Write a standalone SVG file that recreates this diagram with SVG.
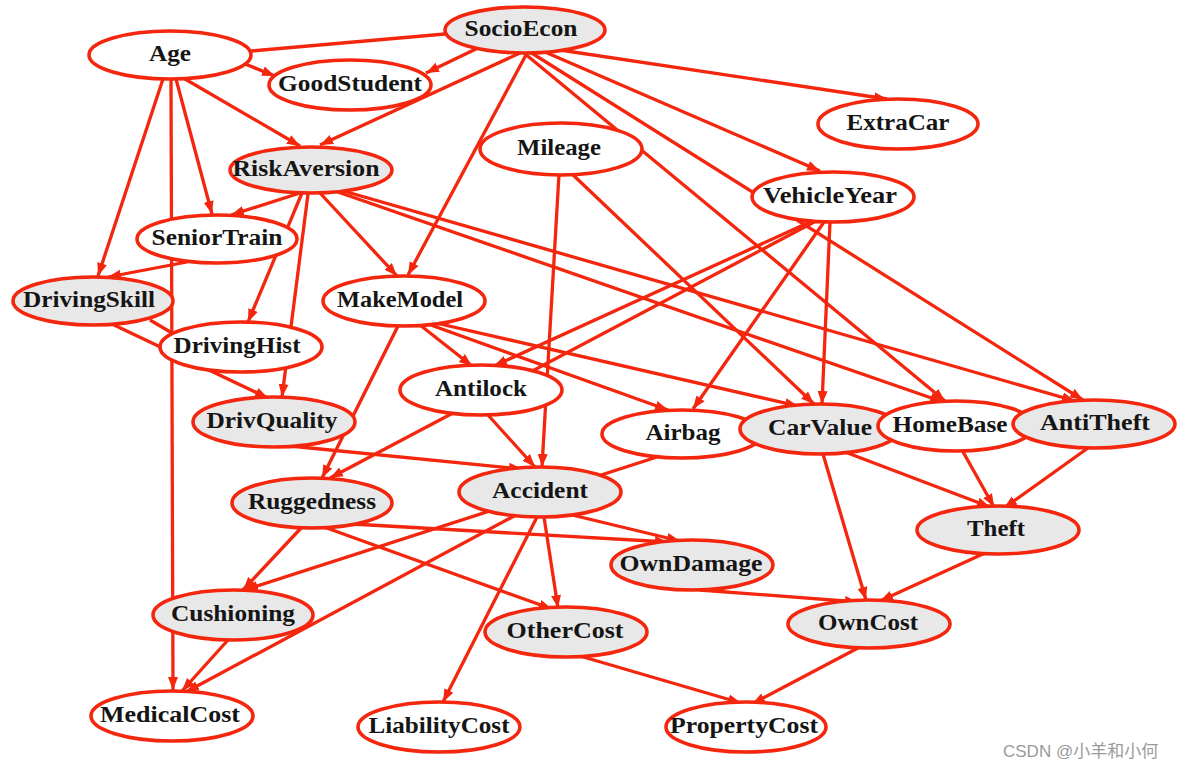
<svg xmlns="http://www.w3.org/2000/svg" width="1190" height="769" viewBox="0 0 1190 769">
<style>
.e{stroke:#f4260e;stroke-width:3.3;fill:none;marker-end:url(#ah)}
.n{stroke:#f4260e;stroke-width:3.3;fill:none}
.w{fill:#ffffff;stroke:#f4260e;stroke-width:3.6}
.g{fill:#e8e8e8;stroke:#f4260e;stroke-width:3.6}
.t{font-family:"Liberation Serif","Times New Roman",serif;font-size:23px;font-weight:bold;fill:#151515;text-anchor:middle}
.wm{font-family:"Liberation Sans","Noto Sans CJK SC",sans-serif;font-size:17px;fill:#9a9a9a}
</style>
<defs>
<marker id="ah" markerUnits="userSpaceOnUse" markerWidth="14" markerHeight="12" refX="13" refY="6" orient="auto">
<path d="M0,1 L13,6 L0,11 z" fill="#f4260e"/>
</marker>
</defs>
<rect x="0" y="0" width="1190" height="769" fill="#ffffff"/>
<g id="edges">
<line class="n" x1="251" y1="51" x2="445" y2="34"/>
<line class="e" x1="245" y1="64" x2="275" y2="76"/>
<line class="e" x1="185" y1="79" x2="300" y2="146"/>
<line class="e" x1="163" y1="79" x2="98" y2="276"/>
<line class="e" x1="176" y1="79" x2="212" y2="214"/>
<line class="e" x1="171" y1="79" x2="173" y2="690"/>
<line class="e" x1="478" y1="48" x2="426" y2="73"/>
<line class="e" x1="520" y1="53" x2="320" y2="145"/>
<line class="e" x1="527" y1="53" x2="408" y2="275"/>
<line class="e" x1="560" y1="50" x2="887" y2="99"/>
<line class="e" x1="545" y1="52" x2="820" y2="171"/>
<line class="e" x1="524" y1="53" x2="945" y2="401"/>
<line class="e" x1="530" y1="52" x2="1083" y2="400"/>
<line class="e" x1="559" y1="174" x2="542" y2="467"/>
<line class="e" x1="571" y1="173" x2="814" y2="404"/>
<line class="e" x1="300" y1="193" x2="231" y2="215"/>
<line class="e" x1="302" y1="193" x2="248" y2="322"/>
<line class="e" x1="308" y1="194" x2="282" y2="397"/>
<line class="e" x1="320" y1="193" x2="397" y2="276"/>
<line class="e" x1="335" y1="191" x2="943" y2="402"/>
<line class="e" x1="340" y1="190" x2="1075" y2="401"/>
<line class="e" x1="812" y1="221" x2="494" y2="366"/>
<line class="e" x1="816" y1="221" x2="330" y2="478"/>
<line class="e" x1="824" y1="222" x2="693" y2="409"/>
<line class="e" x1="830" y1="222" x2="822" y2="404"/>
<line class="e" x1="420" y1="325" x2="472" y2="366"/>
<line class="e" x1="398" y1="326" x2="322" y2="478"/>
<line class="e" x1="428" y1="324" x2="668" y2="410"/>
<line class="e" x1="436" y1="323" x2="798" y2="406"/>
<line class="e" x1="488" y1="415" x2="535" y2="467"/>
<line class="n" x1="150" y1="320" x2="172" y2="333"/>
<line class="e" x1="112" y1="324" x2="268" y2="398"/>
<line class="e" x1="187" y1="262" x2="108" y2="277"/>
<line class="e" x1="290" y1="446" x2="522" y2="469"/>
<line class="e" x1="302" y1="527" x2="243" y2="590"/>
<line class="e" x1="352" y1="524" x2="668" y2="542"/>
<line class="e" x1="324" y1="527" x2="552" y2="609"/>
<line class="e" x1="657" y1="457" x2="245" y2="590"/>
<line class="e" x1="568" y1="514" x2="680" y2="541"/>
<line class="e" x1="544" y1="517" x2="558" y2="608"/>
<line class="e" x1="537" y1="517" x2="443" y2="702"/>
<line class="e" x1="516" y1="515" x2="186" y2="692"/>
<line class="e" x1="228" y1="640" x2="182" y2="691"/>
<line class="e" x1="845" y1="452" x2="990" y2="507"/>
<line class="e" x1="823" y1="454" x2="866" y2="600"/>
<line class="e" x1="962" y1="450" x2="994" y2="507"/>
<line class="e" x1="1088" y1="448" x2="1004" y2="508"/>
<line class="e" x1="985" y1="553" x2="880" y2="601"/>
<line class="e" x1="700" y1="590" x2="858" y2="602"/>
<line class="e" x1="580" y1="656" x2="741" y2="703"/>
<line class="e" x1="858" y1="648" x2="752" y2="704"/>
</g>
<g id="node-Age"><ellipse class="w" cx="170" cy="55" rx="81" ry="24"/><text class="t" x="170" y="61" textLength="42" lengthAdjust="spacingAndGlyphs">Age</text></g>
<g id="node-SocioEcon"><ellipse class="g" cx="525" cy="30" rx="80" ry="23"/><text class="t" x="521" y="36" textLength="113" lengthAdjust="spacingAndGlyphs">SocioEcon</text></g>
<g id="node-GoodStudent"><ellipse class="w" cx="350" cy="85" rx="81" ry="25"/><text class="t" x="350" y="91" textLength="144" lengthAdjust="spacingAndGlyphs">GoodStudent</text></g>
<g id="node-ExtraCar"><ellipse class="w" cx="898" cy="124" rx="80" ry="25"/><text class="t" x="898" y="130" textLength="103" lengthAdjust="spacingAndGlyphs">ExtraCar</text></g>
<g id="node-Mileage"><ellipse class="w" cx="561" cy="149" rx="81" ry="26"/><text class="t" x="559" y="155" textLength="84" lengthAdjust="spacingAndGlyphs">Mileage</text></g>
<g id="node-RiskAversion"><ellipse class="g" cx="311" cy="170" rx="81" ry="23"/><text class="t" x="306" y="176" textLength="147" lengthAdjust="spacingAndGlyphs">RiskAversion</text></g>
<g id="node-VehicleYear"><ellipse class="w" cx="833" cy="197" rx="81" ry="25"/><text class="t" x="830" y="203" textLength="134" lengthAdjust="spacingAndGlyphs">VehicleYear</text></g>
<g id="node-SeniorTrain"><ellipse class="w" cx="217" cy="239" rx="80" ry="24"/><text class="t" x="217" y="245" textLength="131" lengthAdjust="spacingAndGlyphs">SeniorTrain</text></g>
<g id="node-DrivingSkill"><ellipse class="g" cx="93" cy="301" rx="80" ry="24"/><text class="t" x="89" y="307" textLength="132" lengthAdjust="spacingAndGlyphs">DrivingSkill</text></g>
<g id="node-MakeModel"><ellipse class="w" cx="404" cy="301" rx="81" ry="25"/><text class="t" x="400" y="307" textLength="126" lengthAdjust="spacingAndGlyphs">MakeModel</text></g>
<g id="node-DrivingHist"><ellipse class="w" cx="241" cy="347" rx="81" ry="25"/><text class="t" x="237" y="353" textLength="127" lengthAdjust="spacingAndGlyphs">DrivingHist</text></g>
<g id="node-Antilock"><ellipse class="w" cx="481" cy="390" rx="81" ry="25"/><text class="t" x="481" y="396" textLength="92" lengthAdjust="spacingAndGlyphs">Antilock</text></g>
<g id="node-DrivQuality"><ellipse class="g" cx="274" cy="422" rx="81" ry="25"/><text class="t" x="272" y="428" textLength="131" lengthAdjust="spacingAndGlyphs">DrivQuality</text></g>
<g id="node-Airbag"><ellipse class="w" cx="682" cy="434" rx="80" ry="24"/><text class="t" x="683" y="440" textLength="75" lengthAdjust="spacingAndGlyphs">Airbag</text></g>
<g id="node-CarValue"><ellipse class="g" cx="820" cy="429" rx="80" ry="25"/><text class="t" x="820" y="435" textLength="104" lengthAdjust="spacingAndGlyphs">CarValue</text></g>
<g id="node-HomeBase"><ellipse class="w" cx="956" cy="426" rx="78" ry="25"/><text class="t" x="950" y="432" textLength="115" lengthAdjust="spacingAndGlyphs">HomeBase</text></g>
<g id="node-AntiTheft"><ellipse class="g" cx="1094" cy="424" rx="81" ry="24"/><text class="t" x="1095" y="430" textLength="110" lengthAdjust="spacingAndGlyphs">AntiTheft</text></g>
<g id="node-Ruggedness"><ellipse class="g" cx="312" cy="503" rx="80" ry="25"/><text class="t" x="312" y="509" textLength="128" lengthAdjust="spacingAndGlyphs">Ruggedness</text></g>
<g id="node-Accident"><ellipse class="g" cx="540" cy="492" rx="81" ry="25"/><text class="t" x="540" y="498" textLength="96" lengthAdjust="spacingAndGlyphs">Accident</text></g>
<g id="node-Theft"><ellipse class="g" cx="998" cy="530" rx="81" ry="24"/><text class="t" x="996" y="536" textLength="58" lengthAdjust="spacingAndGlyphs">Theft</text></g>
<g id="node-OwnDamage"><ellipse class="g" cx="692" cy="565" rx="81" ry="25"/><text class="t" x="691" y="571" textLength="143" lengthAdjust="spacingAndGlyphs">OwnDamage</text></g>
<g id="node-Cushioning"><ellipse class="g" cx="233" cy="615" rx="80" ry="25"/><text class="t" x="233" y="621" textLength="124" lengthAdjust="spacingAndGlyphs">Cushioning</text></g>
<g id="node-OtherCost"><ellipse class="g" cx="566" cy="632" rx="81" ry="25"/><text class="t" x="565" y="638" textLength="117" lengthAdjust="spacingAndGlyphs">OtherCost</text></g>
<g id="node-OwnCost"><ellipse class="g" cx="869" cy="624" rx="81" ry="24"/><text class="t" x="868" y="630" textLength="100" lengthAdjust="spacingAndGlyphs">OwnCost</text></g>
<g id="node-MedicalCost"><ellipse class="w" cx="172" cy="716" rx="81" ry="25"/><text class="t" x="170" y="722" textLength="140" lengthAdjust="spacingAndGlyphs">MedicalCost</text></g>
<g id="node-LiabilityCost"><ellipse class="w" cx="439" cy="727" rx="81" ry="25"/><text class="t" x="439" y="733" textLength="141" lengthAdjust="spacingAndGlyphs">LiabilityCost</text></g>
<g id="node-PropertyCost"><ellipse class="w" cx="746" cy="727" rx="80" ry="25"/><text class="t" x="744" y="733" textLength="148" lengthAdjust="spacingAndGlyphs">PropertyCost</text></g>
<text class="wm" x="1003" y="757">CSDN @小羊和小何</text>
</svg>
